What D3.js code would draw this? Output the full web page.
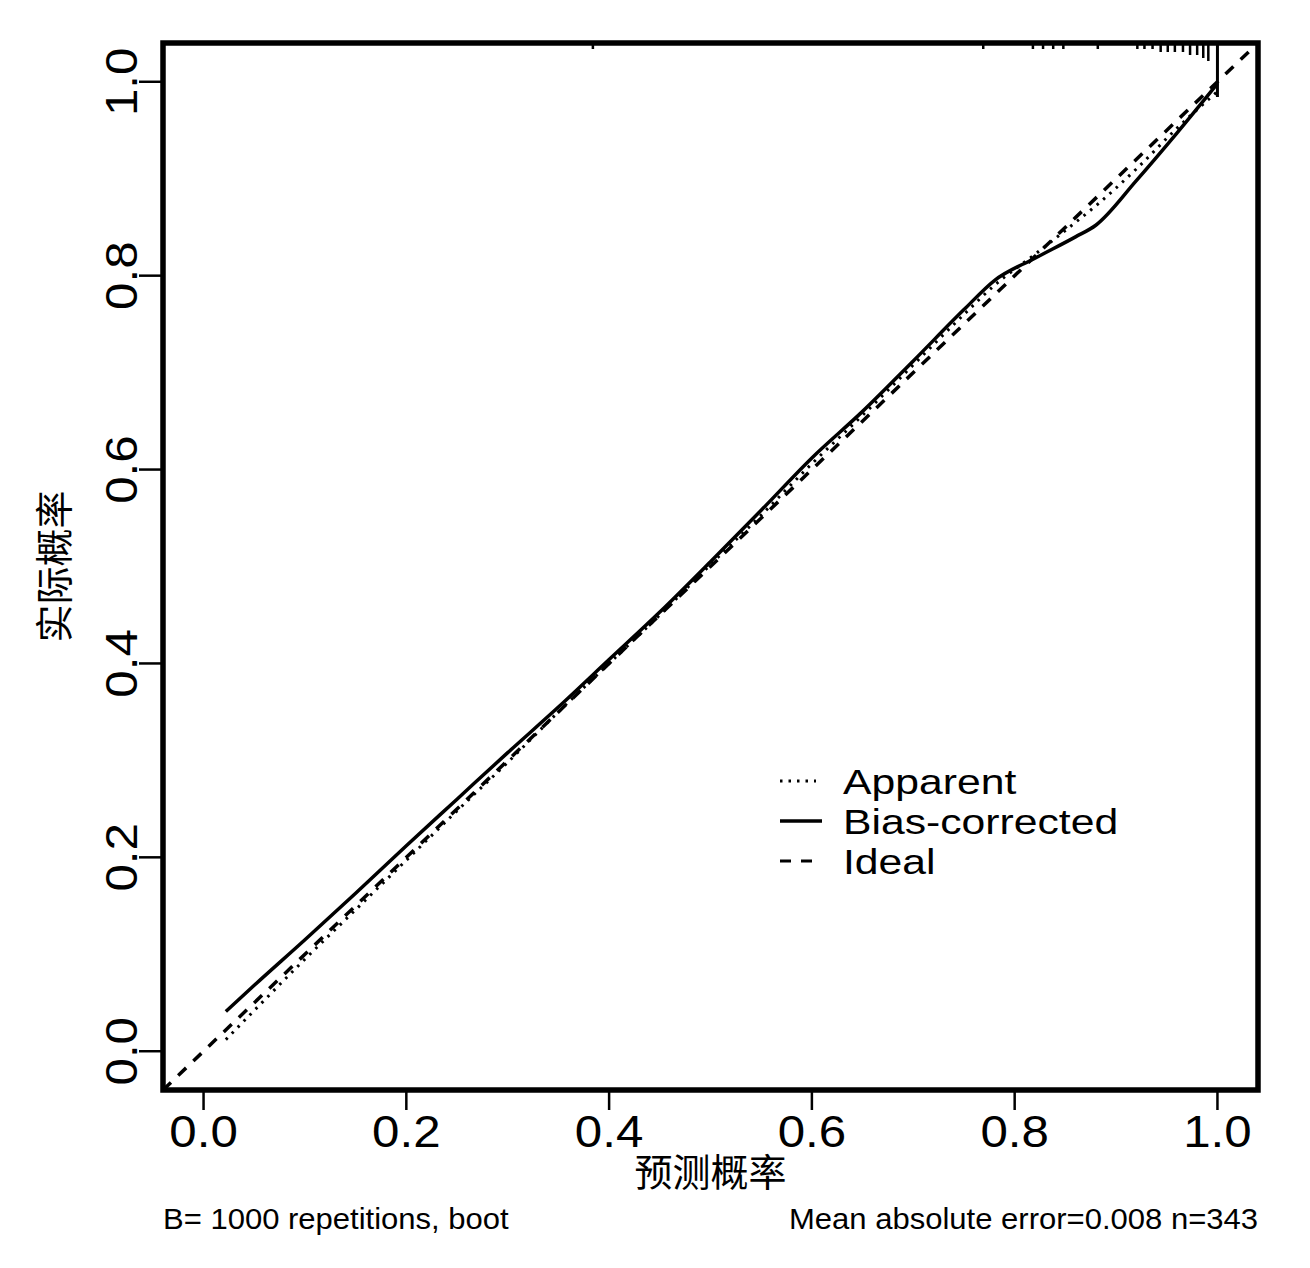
<!DOCTYPE html>
<html>
<head>
<meta charset="utf-8">
<script src="https://cdn.jsdelivr.net/npm/d3@7"></script>
<style>
  body { margin: 0; background: #fff; }
  text { font-family: "Liberation Sans", Arial, sans-serif; fill: #000; }
  .cjk { font-family: "Noto Sans CJK SC", "Noto Sans", sans-serif; }
</style>
</head>
<body>
<svg id="chart" width="1310" height="1268"></svg>
<script>
const predicted = [0.022, 0.05, 0.1, 0.15, 0.2, 0.25, 0.3, 0.35, 0.4, 0.45, 0.5, 0.55,
    0.6, 0.65, 0.7, 0.75, 0.78, 0.82, 0.86, 0.88, 0.92, 0.96, 1.0];
const biasCorrected = [0.041, 0.068, 0.115, 0.163, 0.212, 0.26, 0.308, 0.355, 0.404, 0.453, 0.505, 0.558,
    0.612, 0.66, 0.712, 0.765, 0.795, 0.818, 0.84, 0.852, 0.898, 0.947, 0.998];
const apparent = [0.012, 0.042, 0.095, 0.146, 0.197, 0.248, 0.298, 0.35, 0.4, 0.45, 0.502, 0.553,
    0.606, 0.656, 0.708, 0.76, 0.79, 0.822, 0.855, 0.872, 0.91, 0.952, 0.99];
const idealX = [-0.04, 1.04];

// distribution of predictions drawn along the top edge
const rugX = [0.384, 0.769, 0.818, 0.828, 0.838, 0.848, 0.882, 0.921, 0.928, 0.936, 0.944,
    0.951, 0.958, 0.966, 0.973, 0.98, 0.986, 0.991, 1.0];
const rugFreq = [2, 2, 2, 2, 2, 2, 2, 2, 2, 2, 3, 3, 3, 3, 4, 4, 5, 6, 18];

const ticks = [0, 0.2, 0.4, 0.6, 0.8, 1.0];
const legendItems = ['Apparent', 'Bias-corrected', 'Ideal'];

const svg = d3.select('#chart');
const box = { left: 163, right: 1258, top: 43, bottom: 1090 };

const x = d3.scaleLinear().domain([-0.04, 1.04]).range([box.left, box.right]);
const y = d3.scaleLinear().domain([-0.04, 1.04]).range([box.bottom, box.top]);
const rugLen = d3.scaleLinear().domain([0, 18]).range([0, 54]);

svg.append('defs').append('clipPath').attr('id', 'plot-clip')
    .append('rect')
    .attr('x', box.left).attr('y', box.top)
    .attr('width', box.right - box.left).attr('height', box.bottom - box.top);

const plot = svg.append('g').attr('clip-path', 'url(#plot-clip)');

const line = d3.line()
    .x(d => x(d[0]))
    .y(d => y(d[1]))
    .curve(d3.curveMonotoneX);

// Ideal (dashed)
plot.append('path')
    .datum(idealX.map(v => [v, v]))
    .attr('d', d3.line().x(d => x(d[0])).y(d => y(d[1])))
    .attr('fill', 'none')
    .attr('stroke', '#000')
    .attr('stroke-width', 3.5)
    .attr('stroke-dasharray', '11,10');

// Apparent (dotted)
plot.append('path')
    .datum(predicted.map((p, i) => [p, apparent[i]]))
    .attr('d', line)
    .attr('fill', 'none')
    .attr('stroke', '#000')
    .attr('stroke-width', 3)
    .attr('stroke-dasharray', '2.5,6');

// Bias-corrected (solid)
plot.append('path')
    .datum(predicted.map((p, i) => [p, biasCorrected[i]]))
    .attr('d', line)
    .attr('fill', 'none')
    .attr('stroke', '#000')
    .attr('stroke-width', 3.5);

// rug of predicted values along the top
plot.append('g')
    .selectAll('line')
    .data(rugX)
    .enter().append('line')
    .attr('x1', d => x(d))
    .attr('x2', d => x(d))
    .attr('y1', box.top)
    .attr('y2', (d, i) => box.top + rugLen(rugFreq[i]))
    .attr('stroke', '#000')
    .attr('stroke-width', (d, i) => rugFreq[i] > 10 ? 3 : 2.5);

// frame
svg.append('rect')
    .attr('x', box.left).attr('y', box.top)
    .attr('width', box.right - box.left).attr('height', box.bottom - box.top)
    .attr('fill', 'none')
    .attr('stroke', '#000')
    .attr('stroke-width', 5.5);

// x axis
const xAxis = svg.append('g');
xAxis.selectAll('line')
    .data(ticks)
    .enter().append('line')
    .attr('x1', d => x(d)).attr('x2', d => x(d))
    .attr('y1', box.bottom).attr('y2', box.bottom + 20)
    .attr('stroke', '#000')
    .attr('stroke-width', 2.5);
xAxis.selectAll('text')
    .data(ticks)
    .enter().append('text')
    .attr('transform', d => `translate(${x(d)},1147) scale(1.12,1)`)
    .attr('text-anchor', 'middle')
    .style('font-size', '44px')
    .text(d => d.toFixed(1));

// y axis
const yAxis = svg.append('g');
yAxis.selectAll('line')
    .data(ticks)
    .enter().append('line')
    .attr('x1', box.left).attr('x2', box.left - 24)
    .attr('y1', d => y(d)).attr('y2', d => y(d))
    .attr('stroke', '#000')
    .attr('stroke-width', 2.5);
yAxis.selectAll('text')
    .data(ticks)
    .enter().append('text')
    .attr('transform', d => `translate(137,${y(d)}) rotate(-90) scale(1.12,1)`)
    .attr('text-anchor', 'middle')
    .style('font-size', '44px')
    .text(d => d.toFixed(1));

// axis titles
svg.append('text')
    .attr('class', 'cjk')
    .attr('x', x(0.5)).attr('y', 1186)
    .attr('text-anchor', 'middle')
    .style('font-size', '38px')
    .text('预测概率');

svg.append('text')
    .attr('class', 'cjk')
    .attr('transform', `translate(68,${y(0.5)}) rotate(-90)`)
    .attr('text-anchor', 'middle')
    .style('font-size', '38px')
    .text('实际概率');

// legend
const legend = svg.append('g').attr('transform', 'translate(780,781)');
const legendDash = ['2.5,6', null, '11,10'];
const legendLen = [36, 42, 42];
legendItems.forEach((label, i) => {
    const row = legend.append('g').attr('transform', `translate(0,${i * 40})`);
    row.append('line')
        .attr('x1', 0).attr('x2', legendLen[i])
        .attr('y1', 0).attr('y2', 0)
        .attr('stroke', '#000')
        .attr('stroke-width', i === 1 ? 3.5 : 3)
        .attr('stroke-dasharray', legendDash[i]);
    row.append('text')
        .attr('transform', 'translate(63,13) scale(1.22,1)')
        .style('font-size', '35px')
        .text(label);
});

// footnotes
svg.append('text')
    .attr('transform', `translate(${box.left},1229) scale(1.07,1)`)
    .style('font-size', '29px')
    .text('B= 1000 repetitions, boot');

svg.append('text')
    .attr('transform', `translate(${box.right},1229) scale(1.07,1)`)
    .attr('text-anchor', 'end')
    .style('font-size', '29px')
    .text('Mean absolute error=0.008 n=343');
</script>
</body>
</html>
